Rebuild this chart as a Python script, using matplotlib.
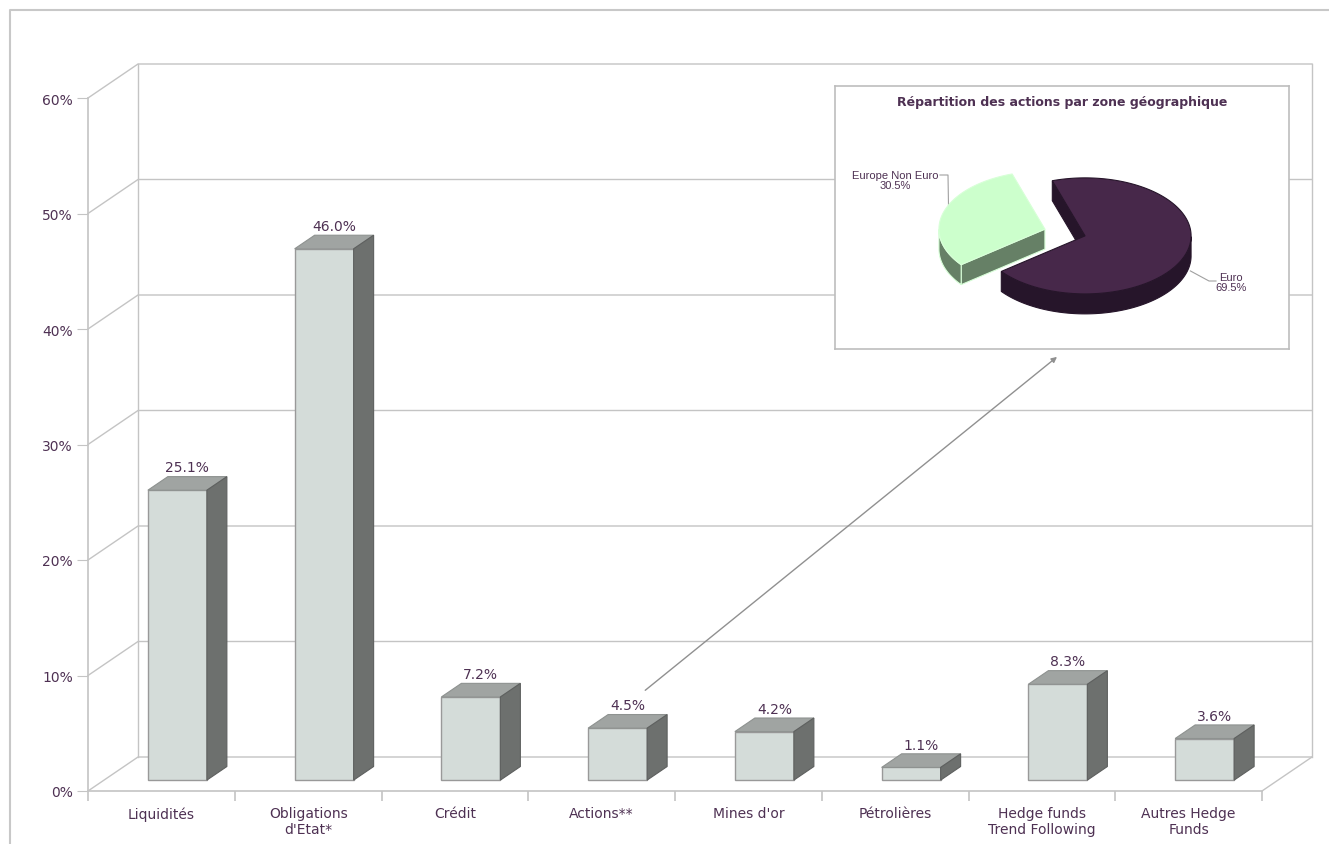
import numpy as np
import matplotlib
matplotlib.use("Agg")
from matplotlib import pyplot as plt
from matplotlib.patches import Polygon
from matplotlib.lines import Line2D

# data
categories = ["Liquidités", "Obligations\nd'Etat*", "Crédit", "Actions**", "Mines d'or",
              "Pétrolières", "Hedge funds\nTrend Following", "Autres Hedge\nFunds"]
values = [25.1, 46.0, 7.2, 4.5, 4.2, 1.1, 8.3, 3.6]
yticks = [0, 10, 20, 30, 40, 50, 60]

pie_names = ["Euro", "Europe Non Euro"]
pie_shares = [69.5, 30.5]
pie_title = "Répartition des actions par zone géographique"

# style
txt = "#4E3153"
grid = "#C4C4C4"
front_c = "#D4DCD9"
top_c = "#A0A4A2"
side_c = "#6D706E"
W, H = 1329, 845

fig = plt.figure(figsize=(W / 100, H / 100), dpi=100)
ax = fig.add_axes([88 / W, 53 / H, 1174 / W, 693 / H])
ax.set_xlim(0, 8)
ax.set_ylim(0, 60)

# depth of the wall (data units)
DX = 50 / 146.75
DY = 34 / 11.55

# back wall / side wall gridlines
for t in yticks:
    ax.plot([0, DX, 8 + DX], [t, t + DY, t + DY], color=grid, lw=1, clip_on=False, zorder=1)
ax.plot([DX, DX], [DY, 60 + DY], color=grid, lw=1, clip_on=False, zorder=1)
ax.plot([8 + DX, 8 + DX], [DY, 60 + DY], color=grid, lw=1, clip_on=False, zorder=1)
ax.plot([8, 8 + DX], [0, DY], color=grid, lw=1, clip_on=False, zorder=1)

# axes look
for s in ["top", "right"]:
    ax.spines[s].set_visible(False)
for s in ["left", "bottom"]:
    ax.spines[s].set_color(grid)
    ax.spines[s].set_linewidth(1.2)
ax.set_yticks(yticks)
ax.set_yticklabels([str(t) + "%" for t in yticks], color=txt, fontsize=10)
ax.tick_params(axis="y", length=8, color=grid, pad=3)
ax.set_xticks(np.arange(0, 9))
ax.set_xticklabels([])
ax.tick_params(axis="x", which="major", length=7, color=grid, width=1.2)
ax.set_xticks(np.arange(8) + 0.5, minor=True)
ax.set_xticklabels(categories, minor=True, color=txt, fontsize=10, linespacing=1.15)
ax.tick_params(axis="x", which="minor", length=0, pad=11)
ax.patch.set_visible(False)

# 3d bars
f0, f1 = 0.32, 0.72
bw = 59 / 146.75
ddx = (f1 - f0) * DX
ddy = (f1 - f0) * DY
centers = np.arange(8) + 0.5 + f0 * DX
ax.bar(centers, values, bottom=f0 * DY, width=bw, color=front_c, edgecolor="#999999",
       lw=1, zorder=3, clip_on=False)
for c, v in zip(centers, values):
    x0, x1 = c - bw / 2, c + bw / 2
    y0, y1 = f0 * DY, f0 * DY + v
    top = Polygon([(x0, y1), (x1, y1), (x1 + ddx, y1 + ddy), (x0 + ddx, y1 + ddy)],
                  closed=True, facecolor=top_c, edgecolor="#8E9290", lw=0.8, zorder=3, clip_on=False)
    side = Polygon([(x1, y0), (x1, y1), (x1 + ddx, y1 + ddy), (x1 + ddx, y0 + ddy)],
                   closed=True, facecolor=side_c, edgecolor="#5E605F", lw=0.8, zorder=3, clip_on=False)
    ax.add_patch(top)
    ax.add_patch(side)
    ax.text(c + ddx / 2, y1 + ddy + 0.2, "%.1f%%" % v, ha="center", va="bottom",
            color=txt, fontsize=10, zorder=4)

# inset with the 3d pie
ia = fig.add_axes([835 / W, (H - 350) / H, 454 / W, 263 / H])
ia.set_xlim(0, 454)
ia.set_ylim(0, 263)
ia.set_xticks([])
ia.set_yticks([])
for s in ia.spines.values():
    s.set_color("#BDBDBD")
    s.set_linewidth(1.2)
ia.text(0.5, 0.94, pie_title, transform=ia.transAxes, ha="center", va="center",
        fontsize=9, fontweight="bold", color=txt)

cx, cy = 230, 116.5
rx, ry, dz = 106, 58, 20
explode = 21
pie_top = ["#47284A", "#CCFFCC"]
pie_side = ["#26152A", "#668066"]
pie_edge = ["#26152A", "#D8FFD8"]

end_angle = 108
total = sum(pie_shares)
angles = []
a = end_angle - 360 * pie_shares[0] / total
for sh in pie_shares:
    span = 360 * sh / total
    angles.append((a, a + span))
    a += span

def rim(ox, oy, th, down=0.0):
    r = np.radians(th)
    return ox + rx * np.cos(r), oy + ry * np.sin(r) - down

mids = []
for i, (t1, t2) in enumerate(angles):
    mid = np.radians((t1 + t2) / 2)
    ox = cx + explode * np.cos(mid)
    oy = cy + explode * np.sin(mid) * ry / rx
    mids.append((ox, oy, (t1 + t2) / 2))
    # cut faces
    for th, normal in [(t1, t1 - 90), (t2, t2 + 90)]:
        if np.sin(np.radians(normal)) < 0:
            px, py = rim(ox, oy, th)
            ia.add_patch(Polygon([(ox, oy), (px, py), (px, py - dz), (ox, oy - dz)],
                                 closed=True, facecolor=pie_side[i], edgecolor=pie_edge[i], lw=0.8, zorder=2))
    # outer side
    ths = np.linspace(t1, t2, 300)
    vis = np.sin(np.radians(ths)) <= 0
    if vis.any():
        seg = ths[vis]
        xs, ys = rim(ox, oy, seg)
        xb, yb = rim(ox, oy, seg[::-1], dz)
        ia.add_patch(Polygon(np.column_stack([np.r_[xs, xb], np.r_[ys, yb]]), closed=True,
                             facecolor=pie_side[i], edgecolor=pie_edge[i], lw=0.8, zorder=2))
    # top
    xs, ys = rim(ox, oy, ths)
    ia.add_patch(Polygon(np.column_stack([np.r_[ox, xs], np.r_[oy, ys]]), closed=True,
                         facecolor=pie_top[i], edgecolor=pie_edge[i], lw=0.8, zorder=3))

# pie labels with leader lines
ox, oy, m = mids[1]
px, py = rim(ox, oy, m)
ia.plot([105, 113, px + 5], [174, 174, py], color="#A0A0A0", lw=0.8, zorder=1)
ia.text(60, 169, "%s\n%.1f%%" % (pie_names[1], pie_shares[1]), ha="center", va="center",
        fontsize=8, family="Liberation Sans", color=txt, linespacing=1.1)
ox, oy, m = mids[0]
px, py = rim(ox, oy, m, dz - 2)
ia.plot([px + 4, 374, 381], [py, 68, 68], color="#A0A0A0", lw=0.8, zorder=1)
ia.text(396, 67, "%s\n%.1f%%" % (pie_names[0], pie_shares[0]), ha="center", va="center",
        fontsize=8, family="Liberation Sans", color=txt, linespacing=1.1)

# arrow from the Actions bar label to the inset
k = categories.index("Actions**")
lx = centers[k] + ddx / 2
ly = f0 * DY + values[k] + ddy
ax.annotate("", xy=(0.489, -0.03), xycoords=ia.transAxes,
            xytext=(lx + 0.12, ly + 2.1), textcoords="data",
            arrowprops=dict(arrowstyle="-|>", color="#909090", lw=1, mutation_scale=8,
                            shrinkA=0, shrinkB=0), zorder=5)

# outer frame (left and top)
fig.add_artist(Line2D([10 / W, 10 / W, 1], [0, 1 - 11 / H, 1 - 11 / H],
                      transform=fig.transFigure, color="#C8C8C8", lw=1.5))

fig.savefig("out.png", dpi=100)
